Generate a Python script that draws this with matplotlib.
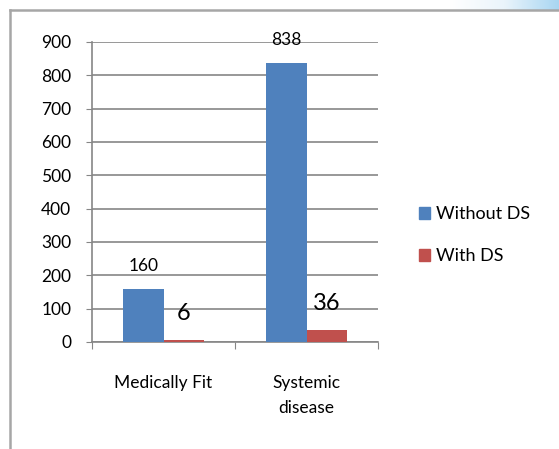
import matplotlib.pyplot as plt
import numpy as np
from matplotlib.colors import LinearSegmentedColormap
from matplotlib.lines import Line2D
from matplotlib.patches import Patch

categories = ["Medically Fit", "Systemic\ndisease"]
without_ds = [160, 838]
with_ds = [6, 36]
series_names = ["Without DS", "With DS"]
y_ticks = [0, 100, 200, 300, 400, 500, 600, 700, 800, 900]

plt.rcParams["font.family"] = ["Lato", "DejaVu Sans"]

fig = plt.figure(figsize=(5.59, 4.49), dpi=100)

# light blue swoosh at top right
sw = fig.add_axes([450 / 559, 1 - 10 / 449, 109 / 559, 10 / 449])
grad = np.linspace(0, 1, 200)[None, :] * np.ones((10, 1))
sw.imshow(grad, cmap=LinearSegmentedColormap.from_list(
    "sw", ["#ffffff", "#eaf4fb", "#a8d6f2"]), aspect="auto")
sw.axis("off")

# gray chart frame (left + top)
fig.add_artist(Line2D([10 / 559, 10 / 559], [0, 1 - 10 / 449], color="#a6a6a6", lw=1.8))
fig.add_artist(Line2D([10 / 559, 1], [1 - 10 / 449, 1 - 10 / 449], color="#a6a6a6", lw=1.8))

ax = fig.add_axes([92 / 559, 1 - 342 / 449, 286 / 559, 300 / 449])
x = np.arange(len(categories))
w = 0.28
ax.bar(x - w / 2, without_ds, w, color="#4f81bd", zorder=3)
ax.bar(x + w / 2, with_ds, w, color="#c0504d", zorder=3)

ax.set_xlim(-0.5, 1.5)
ax.set_ylim(0, 900)
ax.set_yticks(y_ticks)
ax.tick_params(axis="y", labelsize=12.5, length=4, color="#868686", pad=11)
ax.set_xticks([-0.5, 0.5, 1.5])
ax.set_xticklabels([])
ax.tick_params(axis="x", length=5, color="#868686", direction="out")
for i, c in enumerate(categories):
    ax.text(x[i], -100, c, ha="center", va="top", fontsize=12.5, linespacing=1.7)

ax.grid(axis="y", color="#868686", lw=1.2, zorder=0)
for s in ["top", "right"]:
    ax.spines[s].set_visible(False)
for s in ["left", "bottom"]:
    ax.spines[s].set_color("#868686")
    ax.spines[s].set_linewidth(1.2)

# value labels
for i in range(len(categories)):
    ax.text(x[i] - w / 2, without_ds[i] + 45, str(without_ds[i]),
            ha="center", va="bottom", fontsize=12.5)
    ax.text(x[i] + w / 2, with_ds[i] + 48, str(with_ds[i]),
            ha="center", va="bottom", fontsize=17)

handles = [Patch(color="#4f81bd"), Patch(color="#c0504d")]
fig.legend(handles, series_names, loc="upper left", bbox_to_anchor=(403 / 559, 1 - 190 / 449),
           frameon=False, fontsize=13, handlelength=0.6, handleheight=0.6,
           handletextpad=0.35, labelspacing=1.45)

fig.savefig("out.png", dpi=100)
